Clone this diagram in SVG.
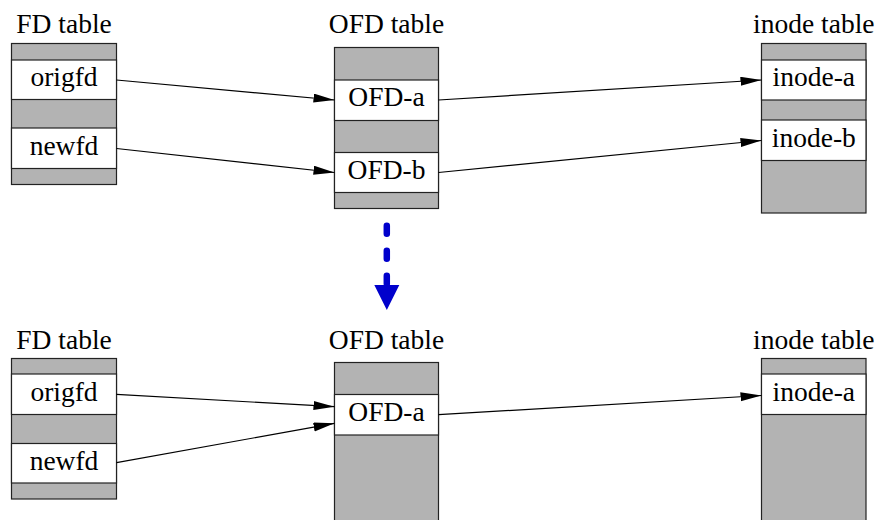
<svg xmlns="http://www.w3.org/2000/svg" width="879" height="520" viewBox="0 0 879 520">
<style>
.g{fill:#b3b3b3;stroke:#222;stroke-width:1.2}
.w{fill:#fff;stroke:#222;stroke-width:1.2}
text{font-family:"Liberation Serif","Times New Roman",serif;font-size:27.5px;fill:#000;text-anchor:middle}
.c line{stroke:#000;stroke-width:1.2;marker-end:url(#ah)}
</style>
<defs>
<marker id="ah" markerUnits="userSpaceOnUse" markerWidth="22" markerHeight="10" refX="21" refY="4.5" orient="auto"><path d="M0,0 L21,4.5 L0,9 z" fill="#000"/></marker>
</defs>
<!-- top -->
<g id="fd1">
<text x="64" y="33">FD table</text>
<rect class="g" x="11.5" y="43.5" width="105" height="141"/>
<rect class="w" x="11.5" y="60" width="105" height="39.5"/>
<rect class="w" x="11.5" y="128" width="105" height="40.5"/>
<text x="64" y="86">origfd</text>
<text x="64" y="155">newfd</text>
</g>
<g id="ofd1">
<text x="386.5" y="33">OFD table</text>
<rect class="g" x="334.5" y="47.5" width="104" height="161"/>
<rect class="w" x="334.5" y="80" width="104" height="40.5"/>
<rect class="w" x="334.5" y="152.5" width="104" height="40"/>
<text x="386.5" y="106">OFD-a</text>
<text x="386.5" y="179">OFD-b</text>
</g>
<g id="inode1">
<text x="813.8" y="33">inode table</text>
<rect class="g" x="761.5" y="43.5" width="104.5" height="169.5"/>
<rect class="w" x="761.5" y="60" width="104.5" height="40"/>
<rect class="w" x="761.5" y="120" width="104.5" height="40.5"/>
<text x="813.8" y="86">inode-a</text>
<text x="813.8" y="146.5">inode-b</text>
</g>
<!-- bottom -->
<g id="fd2">
<text x="64" y="348.5">FD table</text>
<rect class="g" x="11.5" y="358.5" width="105" height="140.5"/>
<rect class="w" x="11.5" y="374" width="105" height="40.5"/>
<rect class="w" x="11.5" y="443.5" width="105" height="39.5"/>
<text x="64" y="400.5">origfd</text>
<text x="64" y="469.5">newfd</text>
</g>
<g id="ofd2">
<text x="386.5" y="348.5">OFD table</text>
<rect class="g" x="334.5" y="362.5" width="104" height="170"/>
<rect class="w" x="334.5" y="394.5" width="104" height="40.5"/>
<text x="386.5" y="421">OFD-a</text>
</g>
<g id="inode2">
<text x="813.8" y="348.5">inode table</text>
<rect class="g" x="761.5" y="358.5" width="104.5" height="170"/>
<rect class="w" x="761.5" y="374" width="104.5" height="40.5"/>
<text x="813.8" y="400.5">inode-a</text>
</g>
<g id="connectors" class="c">
<line x1="116.5" y1="80" x2="334.5" y2="100"/>
<line x1="116.5" y1="148.5" x2="334.5" y2="172.5"/>
<line x1="438.5" y1="100" x2="761.5" y2="80"/>
<line x1="438.5" y1="172.5" x2="761.5" y2="140.5"/>
<line x1="116.5" y1="394.3" x2="334.5" y2="406.7"/>
<line x1="116.5" y1="462.7" x2="334.5" y2="423.3"/>
<line x1="438.5" y1="414.7" x2="761.5" y2="395.5"/>
<path d="M386.8,225.7 L386.8,285" fill="none" stroke="#0000cc" stroke-width="6.5" stroke-linecap="round" stroke-dasharray="8 17"/>
<path d="M374.3,285 L399.3,285 L386.8,310 z" fill="#0000cc"/>
</g>
</svg>
